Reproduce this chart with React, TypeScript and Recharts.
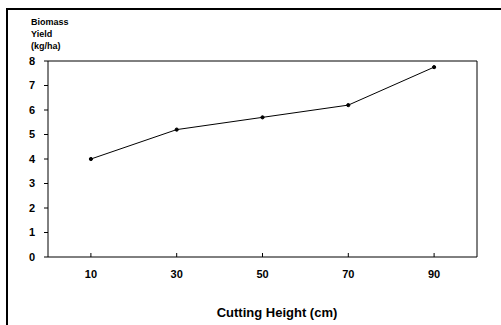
import { LineChart, Line, XAxis, YAxis, ReferenceLine } from "recharts";

// ----- Data -----
const cuttingHeights = [10, 30, 50, 70, 90];
const biomassYield = [4.0, 5.2, 5.7, 6.2, 7.75];
const xTicks = [10, 30, 50, 70, 90];
const yTicks = [0, 1, 2, 3, 4, 5, 6, 7, 8];

const data = cuttingHeights.map((h, i) => ({ height: h, yield: biomassYield[i] }));

const FONT = "'Liberation Sans', Arial, sans-serif";
const tickStyle = { fill: "#000", fontSize: 11, fontWeight: 700, fontFamily: FONT };

export default function App() {
  return (
    <div
      style={{
        position: "absolute",
        left: 0,
        top: 0,
        width: 501,
        height: 325,
        background: "#fff",
        overflow: "hidden",
        fontFamily: FONT,
      }}
    >
      {/* outer frame, only top and left edges are visible */}
      <div
        style={{
          position: "absolute",
          left: 6,
          top: 8,
          width: 520,
          height: 340,
          borderTop: "2px solid #000",
          borderLeft: "2px solid #000",
        }}
      />

      {/* y axis title, three stacked lines */}
      <div
        style={{
          position: "absolute",
          left: 31,
          top: 16,
          fontSize: 9,
          fontWeight: 700,
          lineHeight: "12px",
          color: "#000",
        }}
      >
        <div>Biomass</div>
        <div>Yield</div>
        <div>(kg/ha)</div>
      </div>

      <LineChart
        width={501}
        height={325}
        data={data}
        margin={{ top: 61, right: 24, left: 0, bottom: 38 }}
        style={{ position: "absolute", left: 0, top: 0 }}
      >
        <XAxis
          dataKey="height"
          type="number"
          domain={[0, 100]}
          ticks={xTicks}
          axisLine={{ stroke: "#000", strokeWidth: 1 }}
          tickLine={{ stroke: "#000" }}
          tickSize={-4}
          tickMargin={17}
          tick={tickStyle}
          height={30}
        />
        <YAxis
          domain={[0, 8]}
          ticks={yTicks}
          axisLine={{ stroke: "#000", strokeWidth: 1 }}
          tickLine={{ stroke: "#000" }}
          tickSize={4}
          tickMargin={9}
          tick={tickStyle}
          width={48}
          interval={0}
        />
        {/* plot box top & right */}
        <ReferenceLine y={8} stroke="#000" strokeWidth={1} ifOverflow="visible" />
        <ReferenceLine x={100} stroke="#000" strokeWidth={1} ifOverflow="visible" />
        <Line
          type="linear"
          dataKey="yield"
          stroke="#000"
          strokeWidth={1}
          dot={{ r: 1.6, fill: "#000", stroke: "#000", strokeWidth: 1 }}
          isAnimationActive={false}
        />
      </LineChart>

      {/* x axis title */}
      <div
        style={{
          position: "absolute",
          left: 200,
          top: 305,
          width: 154,
          textAlign: "center",
          fontSize: 13,
          fontWeight: 700,
          color: "#000",
          whiteSpace: "nowrap",
        }}
      >
        Cutting Height (cm)
      </div>
    </div>
  );
}
